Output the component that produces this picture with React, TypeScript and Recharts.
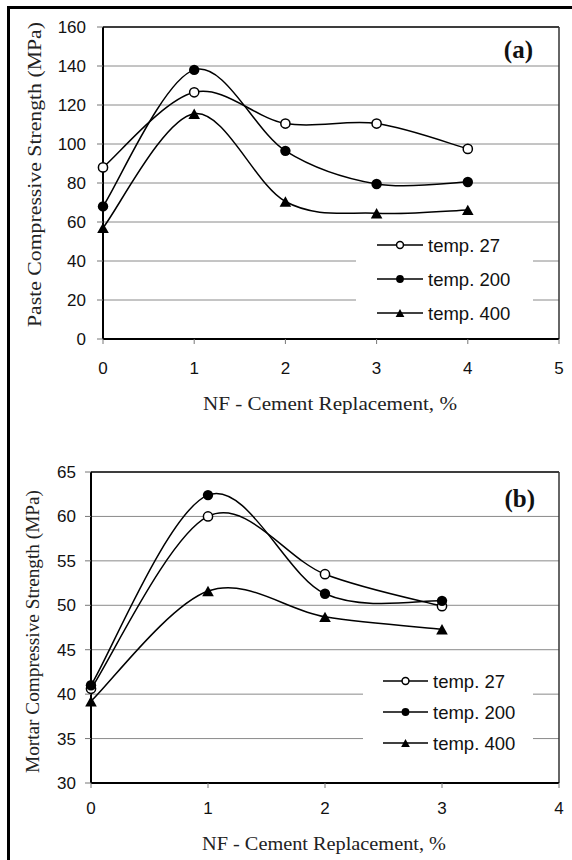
import React from "react";
import {
  LineChart,
  Line,
  XAxis,
  YAxis,
  CartesianGrid,
  ReferenceLine,
  Legend,
  Label,
} from "recharts";

// (a) paste
const pasteReplacement = [0, 1, 2, 3, 4];
const pasteTemp27 = [88, 126.5, 110.5, 110.5, 97.5];
const pasteTemp200 = [68, 138, 96.5, 79.5, 80.5];
const pasteTemp400 = [57, 115.5, 70.5, 64.5, 66.2];
const pasteXTicks = [0, 1, 2, 3, 4, 5];
const pasteYTicks = [0, 20, 40, 60, 80, 100, 120, 140, 160];

// (b) mortar
const mortarReplacement = [0, 1, 2, 3];
const mortarTemp27 = [40.6, 60, 53.5, 49.9];
const mortarTemp200 = [41, 62.4, 51.3, 50.5];
const mortarTemp400 = [39.2, 51.6, 48.7, 47.3];
const mortarXTicks = [0, 1, 2, 3, 4];
const mortarYTicks = [30, 35, 40, 45, 50, 55, 60, 65];

const seriesKeys = ["t27", "t200", "t400"];
const seriesNames = ["temp. 27", "temp. 200", "temp. 400"];

const SANS = "'Liberation Sans', Arial, sans-serif";
const SERIF = "'Liberation Serif', 'Times New Roman', serif";

const buildRows = (nf: number[], a: number[], b: number[], c: number[]) =>
  nf.map((x, i) => ({ nf: x, t27: a[i], t200: b[i], t400: c[i] }));

// Excel-like smoothed line (Catmull-Rom as cubic beziers)
const excelSmooth = (context: any) => {
  let pts: number[][] = [];
  return {
    areaStart() {},
    areaEnd() {},
    lineStart() {
      pts = [];
    },
    point(x: number, y: number) {
      pts.push([+x, +y]);
    },
    lineEnd() {
      const n = pts.length;
      if (!n) return;
      context.moveTo(pts[0][0], pts[0][1]);
      for (let i = 0; i < n - 1; i++) {
        const p0 = pts[i - 1] || pts[i];
        const p1 = pts[i];
        const p2 = pts[i + 1];
        const p3 = pts[i + 2] || p2;
        context.bezierCurveTo(
          p1[0] + (p2[0] - p0[0]) / 6,
          p1[1] + (p2[1] - p0[1]) / 6,
          p2[0] - (p3[0] - p1[0]) / 6,
          p2[1] - (p3[1] - p1[1]) / 6,
          p2[0],
          p2[1]
        );
      }
    },
  };
};

const Marker = ({ kind, cx, cy, s = 1 }: { kind: number; cx: number; cy: number; s?: number }) => {
  if (kind === 0)
    return <circle cx={cx} cy={cy} r={4.6 * s} fill="#fff" stroke="#000" strokeWidth={1.5} />;
  if (kind === 1) return <circle cx={cx} cy={cy} r={5.2 * s} fill="#000" />;
  const w = 5.8 * s;
  const h = 5.2 * s;
  return <polygon points={`${cx},${cy - h} ${cx - w},${cy + h} ${cx + w},${cy + h}`} fill="#000" />;
};

const makeDot = (kind: number) => (props: any) => {
  const { cx, cy, index, dataKey } = props;
  if (cx == null || cy == null) return <g key={`${dataKey}-${index}`} />;
  return (
    <g key={`${dataKey}-${index}`}>
      <Marker kind={kind} cx={cx} cy={cy} />
    </g>
  );
};

interface LegendLayout {
  left: number;
  top: number;
  width: number;
  height: number;
  rowsY: number[];
  lineX: [number, number];
  textX: number;
}

const LegendBox = ({ layout }: { layout: LegendLayout }) => (
  <svg width={layout.width} height={layout.height} style={{ display: "block" }}>
    {seriesNames.map((name, i) => {
      const y = layout.rowsY[i];
      const [x1, x2] = layout.lineX;
      return (
        <g key={name}>
          <line x1={x1} x2={x2} y1={y} y2={y} stroke="#000" strokeWidth={1.5} />
          <Marker kind={i} cx={(x1 + x2) / 2} cy={y} s={0.75} />
          <text
            x={layout.textX}
            y={y}
            dy="0.36em"
            fontFamily={SANS}
            fontSize={18.5}
            fill="#111"
          >
            {name}
          </text>
        </g>
      );
    })}
  </svg>
);

interface PanelProps {
  rows: any[];
  xTicks: number[];
  yTicks: number[];
  margin: { top: number; right: number; bottom: number; left: number };
  yAxisWidth: number;
  xAxisHeight: number;
  yTickMargin: number;
  xTickMargin: number;
  yTitle: string;
  yTitlePos: { x: number; y: number; len: number };
  xTitle: string;
  xTitlePos: { x: number; y: number; len: number };
  tag: string;
  tagPos: { x: number; y: number };
  legend: LegendLayout;
}

const StrengthPanel = (p: PanelProps) => {
  const xMax = p.xTicks[p.xTicks.length - 1];
  const yMin = p.yTicks[0];
  const yMax = p.yTicks[p.yTicks.length - 1];
  return (
    <LineChart width={572} height={430} data={p.rows} margin={p.margin}>
      <CartesianGrid vertical={false} stroke="#8a8a8a" strokeWidth={1} />
      <XAxis
        dataKey="nf"
        type="number"
        domain={[p.xTicks[0], xMax]}
        ticks={p.xTicks}
        height={p.xAxisHeight}
        tickSize={5}
        tickMargin={p.xTickMargin}
        tickLine={{ stroke: "#777" }}
        axisLine={{ stroke: "#000", strokeWidth: 2 }}
        tick={{ fontSize: 17, fill: "#111", fontFamily: SANS }}
      >
        <Label
          content={() => (
            <text
              x={p.xTitlePos.x}
              y={p.xTitlePos.y}
              textAnchor="middle"
              fontFamily={SERIF}
              fontSize={19}
              fill="#222"
              textLength={p.xTitlePos.len}
              lengthAdjust="spacingAndGlyphs"
            >
              {p.xTitle}
            </text>
          )}
        />
      </XAxis>
      <YAxis
        type="number"
        domain={[yMin, yMax]}
        ticks={p.yTicks}
        width={p.yAxisWidth}
        tickSize={6}
        tickMargin={p.yTickMargin}
        tickLine={{ stroke: "#777" }}
        axisLine={{ stroke: "#000", strokeWidth: 2 }}
        tick={{ fontSize: 17, fill: "#111", fontFamily: SANS }}
      >
        <Label
          content={() => (
            <text
              x={p.yTitlePos.x}
              y={p.yTitlePos.y}
              textAnchor="middle"
              dy="0.33em"
              transform={`rotate(-90, ${p.yTitlePos.x}, ${p.yTitlePos.y})`}
              fontFamily={SERIF}
              fontSize={18}
              fill="#222"
              textLength={p.yTitlePos.len}
              lengthAdjust="spacingAndGlyphs"
            >
              {p.yTitle}
            </text>
          )}
        />
      </YAxis>
      <ReferenceLine y={yMax} stroke="#111" strokeWidth={1.5}>
        <Label
          content={() => (
            <text
              x={p.tagPos.x}
              y={p.tagPos.y}
              textAnchor="end"
              fontFamily={SERIF}
              fontWeight="bold"
              fontSize={25}
              fill="#111"
            >
              {p.tag}
            </text>
          )}
        />
      </ReferenceLine>
      <ReferenceLine x={xMax} stroke="#333" strokeWidth={1.5} />
      <Legend
        layout="horizontal"
        verticalAlign="middle"
        align="center"
        content={() => <LegendBox layout={p.legend} />}
        wrapperStyle={{
          position: "absolute",
          left: p.legend.left,
          top: p.legend.top,
          width: p.legend.width,
          height: p.legend.height,
          background: "#fff",
        }}
      />
      {seriesKeys.map((key, i) => (
        <Line
          key={key}
          dataKey={key}
          name={seriesNames[i]}
          type={excelSmooth as any}
          stroke="#000"
          strokeWidth={1.5}
          dot={makeDot(i)}
          activeDot={false}
          isAnimationActive={false}
        />
      ))}
    </LineChart>
  );
};

export default function App() {
  const pasteRows = buildRows(pasteReplacement, pasteTemp27, pasteTemp200, pasteTemp400);
  const mortarRows = buildRows(mortarReplacement, mortarTemp27, mortarTemp200, mortarTemp400);

  return (
    <div
      style={{
        position: "absolute",
        left: 0,
        top: 0,
        width: 572,
        height: 860,
        background: "#fff",
        overflow: "hidden",
      }}
    >
      <div
        style={{
          position: "absolute",
          left: 7,
          top: 6,
          width: 600,
          height: 900,
          borderLeft: "3px solid #000",
          borderTop: "3px solid #000",
        }}
      />
      <div style={{ position: "absolute", left: 0, top: 0 }}>
        <StrengthPanel
          rows={pasteRows}
          xTicks={pasteXTicks}
          yTicks={pasteYTicks}
          margin={{ top: 27, right: 13, bottom: 6, left: 8 }}
          yAxisWidth={95}
          xAxisHeight={85}
          yTickMargin={11}
          xTickMargin={18}
          yTitle="Paste Compressive Strength (MPa)"
          yTitlePos={{ x: 35, y: 174.5, len: 305 }}
          xTitle="NF - Cement Replacement, %"
          xTitlePos={{ x: 330, y: 410, len: 254 }}
          tag="(a)"
          tagPos={{ x: 533, y: 58 }}
          legend={{
            left: 356,
            top: 228,
            width: 177,
            height: 104,
            rowsY: [17, 51, 85],
            lineX: [21, 67],
            textX: 72,
          }}
        />
      </div>
      <div style={{ position: "absolute", left: 0, top: 430 }}>
        <StrengthPanel
          rows={mortarRows}
          xTicks={mortarXTicks}
          yTicks={mortarYTicks}
          margin={{ top: 42, right: 13, bottom: 7, left: 8 }}
          yAxisWidth={83}
          xAxisHeight={70}
          yTickMargin={9}
          xTickMargin={14}
          yTitle="Mortar Compressive Strength (MPa)"
          yTitlePos={{ x: 33, y: 201.5, len: 283 }}
          xTitle="NF - Cement Replacement, %"
          xTitlePos={{ x: 324, y: 420, len: 244 }}
          tag="(b)"
          tagPos={{ x: 535, y: 77 }}
          legend={{
            left: 363,
            top: 227,
            width: 170,
            height: 113,
            rowsY: [24, 55, 86],
            lineX: [20, 65],
            textX: 70,
          }}
        />
      </div>
    </div>
  );
}
